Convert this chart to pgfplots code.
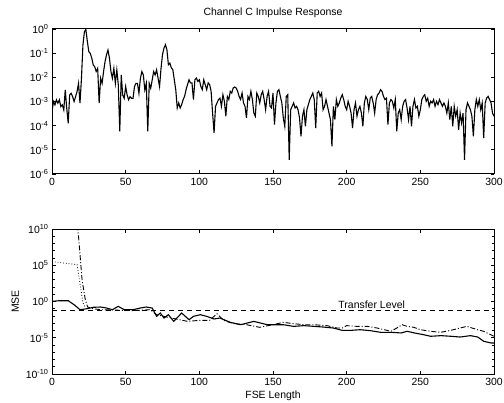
\documentclass[border=0pt]{standalone}
\usepackage{fontspec}
\setmainfont{Liberation Sans}
\usepackage{pgfplots}
\pgfplotsset{compat=1.18}

% log10 of |h(n)|
\pgfplotstableread{
n l
0 -3.42
1 -3.00
2 -3.14
3 -2.93
4 -3.07
5 -2.93
6 -3.21
7 -3.14
8 -3.35
9 -2.52
10 -3.28
11 -3.90
12 -2.73
13 -2.66
14 -2.80
15 -3.00
16 -2.80
17 -2.59
18 -2.25
19 -3.07
20 -2.04
21 -0.66
22 -0.11
23 -0.02
24 -0.52
25 -0.94
26 -1.01
27 -1.21
28 -1.49
29 -1.56
30 -1.76
31 -1.63
32 -3.07
33 -2.04
34 -2.25
35 -1.76
36 -1.35
37 -1.07
38 -0.87
39 -1.21
40 -1.76
41 -2.04
42 -1.63
43 -2.25
44 -1.69
45 -2.31
46 -4.24
47 -1.90
48 -2.73
49 -2.87
50 -2.38
51 -2.73
52 -2.93
53 -2.80
54 -2.87
55 -2.87
56 -2.38
57 -2.25
58 -2.25
59 -2.66
60 -2.04
61 -1.76
62 -1.90
63 -2.52
64 -2.25
65 -4.24
66 -2.25
67 -2.45
68 -2.11
69 -1.76
70 -1.90
71 -1.69
72 -2.04
73 -2.38
74 -1.63
75 -1.06
76 -0.79
77 -0.65
78 -0.86
79 -1.48
80 -1.41
81 -1.61
82 -1.68
83 -2.10
84 -2.51
85 -3.27
86 -3.06
87 -3.27
88 -3.13
89 -2.92
90 -2.79
91 -2.51
92 -2.30
93 -2.10
94 -2.23
95 -2.23
96 -2.92
97 -2.10
98 -2.03
99 -2.17
100 -2.10
101 -2.37
102 -2.51
103 -2.10
104 -2.30
105 -2.51
106 -2.23
107 -2.30
108 -2.58
109 -3.48
110 -4.30
111 -3.20
112 -3.06
113 -2.92
114 -2.86
115 -3.20
116 -2.72
117 -2.99
118 -3.61
119 -2.79
120 -2.92
121 -2.58
122 -2.65
123 -2.44
124 -2.40
125 -2.44
126 -2.58
127 -2.79
128 -2.92
129 -2.65
130 -3.06
131 -3.20
132 -3.68
133 -2.79
134 -2.92
135 -2.58
136 -2.92
137 -3.48
138 -3.61
139 -2.65
140 -2.79
141 -3.06
142 -2.72
143 -2.58
144 -2.92
145 -3.34
146 -2.79
147 -2.58
148 -3.20
149 -3.27
150 -2.65
151 -3.96
152 -3.06
153 -2.58
154 -2.51
155 -2.79
156 -3.06
157 -3.68
158 -4.03
159 -2.79
160 -2.72
161 -5.41
162 -3.34
163 -3.20
164 -3.06
165 -3.27
166 -3.20
167 -3.34
168 -3.68
169 -4.44
170 -3.61
171 -3.34
172 -4.03
173 -3.34
174 -3.13
175 -2.92
176 -2.79
177 -2.65
178 -2.92
179 -4.10
180 -2.65
181 -2.58
182 -2.79
183 -2.65
184 -3.34
185 -3.20
186 -2.92
187 -3.20
188 -3.48
189 -3.75
190 -4.86
191 -3.20
192 -3.75
193 -2.92
194 -3.20
195 -3.06
196 -2.86
197 -2.72
198 -2.92
199 -3.20
200 -3.34
201 -2.99
202 -3.20
203 -3.48
204 -4.10
205 -3.34
206 -3.06
207 -3.61
208 -3.34
209 -3.20
210 -3.48
211 -4.03
212 -3.06
213 -2.79
214 -2.92
215 -3.34
216 -2.86
217 -2.79
218 -3.06
219 -3.48
220 -2.92
221 -2.72
222 -2.65
223 -2.51
224 -2.58
225 -2.79
226 -2.92
227 -2.86
228 -3.96
229 -3.06
230 -2.92
231 -2.99
232 -3.27
233 -2.92
234 -4.23
235 -3.48
236 -3.34
237 -3.75
238 -3.20
239 -2.99
240 -2.92
241 -3.27
242 -3.75
243 -3.20
244 -4.03
245 -3.20
246 -2.92
247 -3.27
248 -3.20
249 -3.61
250 -3.34
251 -2.92
252 -2.79
253 -2.72
254 -2.99
255 -2.86
256 -3.20
257 -2.99
258 -3.06
259 -2.92
260 -3.20
261 -2.99
262 -3.13
263 -2.92
264 -3.06
265 -3.20
266 -3.06
267 -3.20
268 -3.48
269 -3.06
270 -3.75
271 -3.20
272 -4.03
273 -3.20
274 -3.61
275 -3.34
276 -4.17
277 -3.48
278 -3.89
279 -3.48
280 -5.41
281 -3.34
282 -3.06
283 -3.20
284 -3.34
285 -3.61
286 -4.44
287 -3.34
288 -2.92
289 -3.20
290 -2.92
291 -3.34
292 -3.06
293 -4.51
294 -3.06
295 -2.86
296 -2.79
297 -2.92
298 -3.06
299 -3.48
300 -3.61
}\impulse

% log10 MSE versus FSE length
\pgfplotstableread{
n l
0 0.02
5 0.11
11 0.11
15 -0.44
19 -1.13
24 -0.99
28 -0.80
33 -0.76
37 -0.90
41 -1.13
45 -0.67
49 -1.13
55 -1.13
60 -0.90
64 -0.76
68 -0.90
71 -2.05
73.5 -1.59
76 -2.28
79 -1.82
82.6 -2.74
88 -1.59
93 -2.51
96 -2.05
100.7 -1.82
105 -2.05
110 -2.41
114 -2.28
121 -2.87
128 -3.20
137 -2.74
146 -3.20
150 -3.20
157 -3.20
164 -3.43
171 -3.33
178 -3.43
184 -3.52
191 -3.66
197 -3.98
203 -3.98
209 -3.89
216 -4.02
223 -4.25
230 -4.25
237 -4.34
241 -4.11
246 -4.34
252 -4.57
257 -4.80
264 -4.71
271 -4.80
277 -4.90
284 -4.71
289 -4.90
293 -5.49
298 -5.72
300 -5.72
}\msesolid

\pgfplotstableread{
n l
17.2 10.5
18.1 8.76
20.4 3.0
21.5 1.6
22.6 0.25
24.2 -0.76
28 -1.00
33 -1.13
55 -1.26
66.7 -1.13
71 -1.82
81 -2.28
92 -2.74
100 -2.60
107 -2.60
112 -1.68
116.5 -2.60
123 -3.06
132 -3.20
141 -3.56
150 -3.20
157 -2.87
164 -3.06
171 -3.20
177.6 -3.20
186.6 -3.33
193.5 -3.66
197 -3.66
200 -3.33
207 -3.43
214 -3.43
220.7 -3.66
230 -4.11
234 -3.66
237.7 -3.20
241 -3.43
245.6 -3.56
250 -3.89
257 -4.11
263.8 -4.25
270.6 -3.98
277 -3.66
281.6 -3.43
288.7 -3.89
293 -4.11
297.7 -4.57
300 -4.80
}\msedashdot

\pgfplotstableread{
n l
0 5.5
5 5.4
10 5.25
17 5.1
18.6 3.0
20 1.2
21 -0.2
23 -0.9
}\msedotted

\pgfplotstableread{
n l
0 -1.3
300 -1.3
}\transfer

\pgfplotsset{
  mat/.style={
    scale only axis, width=442bp, height=145bp,
    xmin=0, xmax=300, xtick={0,50,...,300},
    tick align=inside, major tick length=3.5bp, minor tick length=2.5bp,
    axis line style={line width=1bp},
    every tick/.style={black, line width=0.7bp},
    tick label style={font=\fontsize{10.5}{11}\selectfont},
    label style={font=\fontsize{10.5}{11}\selectfont},
    /pgf/number format/assume math mode=true,
    xticklabel style={yshift=-0.5bp},
  },
}

\begin{document}
\begin{tikzpicture}
\useasboundingbox (-52bp,-29bp) rectangle (452bp,374bp);

\begin{axis}[mat,
  at={(0,200bp)}, anchor=south west,
  ymin=-6, ymax=0, ytick={-6,...,0},
  yticklabels={10\textsuperscript{-6},10\textsuperscript{-5},10\textsuperscript{-4},10\textsuperscript{-3},10\textsuperscript{-2},10\textsuperscript{-1},10\textsuperscript{0}},
  title={Channel C Impulse Response},
  title style={font=\fontsize{10.5}{11}\selectfont, yshift=2bp},
]
\addplot[black, line width=1.1bp] table[x=n, y=l] {\impulse};
\end{axis}

\begin{axis}[mat,
  at={(0,0)}, anchor=south west,
  ymin=-10, ymax=10, ytick={-10,-5,0,5,10},
  minor ytick={-9,...,9},
  yticklabels={10\textsuperscript{-10},10\textsuperscript{-5},10\textsuperscript{0},10\textsuperscript{5},10\textsuperscript{10}},
  xlabel={FSE Length}, ylabel={MSE},
  xlabel style={yshift=1bp},
]
\addplot[black, line width=0.9bp, dash pattern=on 5bp off 4bp] table[x=n, y=l] {\transfer};
\addplot[black, line width=0.8bp, dash pattern=on 0.8bp off 2bp] table[x=n, y=l] {\msedotted};
\addplot[black, line width=0.9bp, dash pattern=on 5bp off 2bp on 1bp off 2bp] table[x=n, y=l] {\msedashdot};
\addplot[black, line width=1.1bp] table[x=n, y=l] {\msesolid};
\node[anchor=base, font=\fontsize{10.5}{11}\selectfont] at (axis cs:217,-0.98) {Transfer Level};
\end{axis}
\end{tikzpicture}
\end{document}
